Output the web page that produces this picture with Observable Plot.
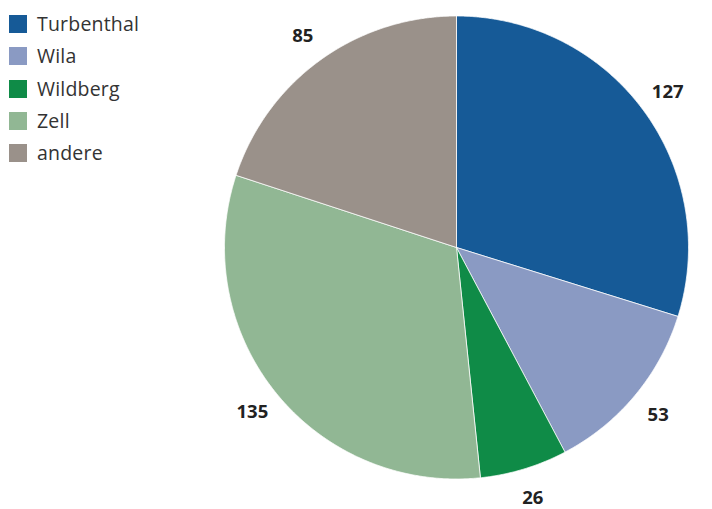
<!DOCTYPE html>
<html><head><meta charset="utf-8">
<script src="https://cdn.jsdelivr.net/npm/d3@7"></script>
<script src="https://cdn.jsdelivr.net/npm/@observablehq/plot@0.6"></script>
<style>
body{margin:0;background:#fff;font-family:"Open Sans","Noto Sans",sans-serif}
#wrap{position:relative;width:712px;height:509px}
#legend{position:absolute;left:9px;top:15px}
.row{display:flex;align-items:center;height:18px;margin-bottom:14.3px}
.sw{width:18px;height:18px;margin-right:10px;flex:none}
.lab{font-size:19.5px;line-height:18px;color:#333;letter-spacing:0.2px}
</style>
</head><body><div id="wrap"><div id="legend"></div></div>
<script>
const categories = ["Turbenthal","Wila","Wildberg","Zell","andere"];
const values = [127,53,26,135,85];
const colors = ["#165a97","#8a9ac3","#0f8b47","#91b794","#9a918a"];

const arcs = d3.pie().sort(null).value(d => d)(values);
const pts = [];
const labels = [];
arcs.forEach((s, i) => {
  const cat = categories[i];
  const n = Math.max(2, Math.ceil((s.endAngle - s.startAngle) / 0.005));
  pts.push({cat, x: 0, y: 0});
  for (let k = 0; k <= n; k++) {
    const a = s.startAngle + (s.endAngle - s.startAngle) * k / n;
    pts.push({cat, x: Math.sin(a), y: Math.cos(a)});
  }
  pts.push({cat, x: 0, y: 0});
  const m = (s.startAngle + s.endAngle) / 2;
  labels.push({x: 1.13 * Math.sin(m), y: 1.13 * Math.cos(m), text: String(values[i])});
});

const chart = Plot.plot({
  width: 712, height: 509,
  margin: 0,
  x: {domain: [-1, 1], range: [224, 688], axis: null},
  y: {domain: [-1, 1], range: [478.5, 15.5], axis: null},
  color: {domain: categories, range: colors},
  style: {fontFamily: '"Open Sans","Noto Sans",sans-serif', background: "white"},
  marks: [
    Plot.line(pts, {x: "x", y: "y", z: "cat", fill: "cat", stroke: "white", strokeWidth: 0.75, curve: "linear"}),
    Plot.text(labels, {x: "x", y: "y", text: "text", fontWeight: "bold", fontSize: 18.5, fill: "#222"})
  ]
});
document.getElementById("wrap").appendChild(chart);
const leg = document.getElementById("legend");
categories.forEach((c, i) => {
  const r = document.createElement("div"); r.className = "row";
  r.innerHTML = `<div class="sw" style="background:${colors[i]}"></div><div class="lab">${c}</div>`;
  leg.appendChild(r);
});
</script>
</body></html>
